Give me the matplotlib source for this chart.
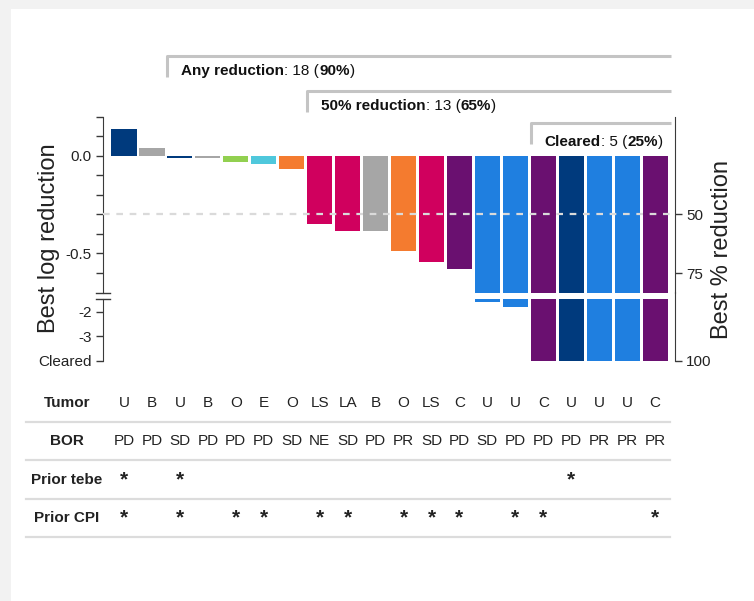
import numpy as np
import matplotlib
matplotlib.use("Agg")
import matplotlib.pyplot as plt
from matplotlib import font_manager
from matplotlib.patches import Rectangle

# per-patient data, sorted by best log reduction
tumor = ["U", "B", "U", "B", "O", "E", "O", "LS", "LA", "B",
         "O", "LS", "C", "U", "U", "C", "U", "U", "U", "C"]
bor = ["PD", "PD", "SD", "PD", "PD", "PD", "SD", "NE", "SD", "PD",
       "PR", "SD", "PD", "SD", "PD", "PD", "PD", "PR", "PR", "PR"]
CLEARED = -4.0
log_reduction = [0.134, 0.04, -0.01, -0.01, -0.035, -0.045, -0.067, -0.352, -0.387, -0.385,
                 -0.49, -0.543, -0.58, -1.6, -1.8, CLEARED, CLEARED, CLEARED, CLEARED, CLEARED]
prior_tebe = [1, 0, 1, 0, 0, 0, 0, 0, 0, 0, 0, 0, 0, 0, 0, 0, 1, 0, 0, 0]
prior_cpi = [1, 0, 1, 0, 1, 1, 0, 1, 1, 0, 1, 1, 1, 0, 1, 1, 0, 0, 0, 1]
bar_colors = ["#003a7d", "#a6a6a6", "#003a7d", "#a6a6a6", "#92d050", "#4fc8dc", "#f47b2f",
              "#d0005e", "#d0005e", "#a6a6a6", "#f47b2f", "#d0005e", "#6a1070", "#1f7fe0",
              "#1f7fe0", "#6a1070", "#003a7d", "#1f7fe0", "#1f7fe0", "#6a1070"]
pct_ticks = [50, 75]

available = {f.name for f in font_manager.fontManager.ttflist}
narrow = "Liberation Sans Narrow" if "Liberation Sans Narrow" in available else "Liberation Sans"
plt.rcParams["font.family"] = "Liberation Sans"
plt.rcParams["axes.unicode_minus"] = False

W, H = 754, 601
SPINE = "#3a3a3a"
fig = plt.figure(figsize=(W / 100, H / 100), dpi=100)
fig.patch.set_facecolor("#f2f2f2")
fig.add_artist(Rectangle((11 / W, 0), 1 - 11 / W, 1 - 9 / H, transform=fig.transFigure,
                         facecolor="white", edgecolor="none", zorder=-10))


def px_axes(left, top, right, bottom):
    return fig.add_axes([left / W, 1 - bottom / H, (right - left) / W, (bottom - top) / H])


ax_up = px_axes(103, 116.5, 675, 292.5)
ax_lo = px_axes(103, 299.3, 675, 361)
ax_tab = px_axes(103, 383.85, 675, 546.6)

n = len(log_reduction)
x = np.arange(n)
xlim = (-0.75, 19.71)

for ax in (ax_up, ax_lo):
    ax.bar(x, log_reduction, width=0.9, color=bar_colors, edgecolor="none")
    ax.set_xlim(*xlim)
    ax.patch.set_alpha(0)
    for s in ("top", "bottom", "right"):
        ax.spines[s].set_visible(False)
    ax.spines["left"].set_color(SPINE)
    ax.tick_params(axis="x", bottom=False, labelbottom=False)
    ax.tick_params(axis="y", which="both", length=5, width=1, color=SPINE,
                   labelsize=11, pad=3, labelcolor="#222222")

ax_up.set_ylim(-0.7, 0.2)
ax_up.set_yticks([0.0, -0.5])
ax_up.set_yticklabels(["0.0", "-0.5"])
ax_up.set_yticks(np.round(np.arange(-0.6, 0.21, 0.1), 1), minor=True)
ax_lo.set_ylim(CLEARED, -1.5)
ax_lo.set_yticks([-2, -3, CLEARED])
ax_lo.set_yticklabels(["-2", "-3", "Cleared"])

# axis break marks
ax_up.plot([-0.013, 0.013], [0, 0], transform=ax_up.transAxes, color=SPINE, lw=1, clip_on=False)
ax_lo.plot([-0.013, 0.013], [1, 1], transform=ax_lo.transAxes, color=SPINE, lw=1, clip_on=False)

# 50% reduction threshold
ax_up.axhline(np.log10(0.5), color="#dadada", lw=1.6, dashes=(3, 3), zorder=5)

# right-hand % reduction axis
ax_ru = ax_up.twinx()
ax_ru.set_ylim(ax_up.get_ylim())
ax_ru.set_yticks([np.log10(1 - p / 100) for p in pct_ticks])
ax_ru.set_yticklabels([str(p) for p in pct_ticks])
ax_rl = ax_lo.twinx()
ax_rl.set_ylim(ax_lo.get_ylim())
ax_rl.set_yticks([CLEARED])
ax_rl.set_yticklabels(["100"])
ax_rl.spines["right"].set_bounds(CLEARED, -1.2)
for ax in (ax_ru, ax_rl):
    for s in ("top", "bottom", "left"):
        ax.spines[s].set_visible(False)
    ax.spines["right"].set_color(SPINE)
    ax.tick_params(axis="y", length=5, width=1, color=SPINE, labelsize=11, pad=3,
                   labelcolor="#222222")

fig.text(49 / W, 1 - 238 / H, "Best log reduction", rotation=90, ha="center", va="center",
         fontsize=17, color="#222222")
fig.text(722 / W, 1 - 249.5 / H, "Best % reduction", rotation=90, ha="center", va="center",
         fontsize=17, color="#222222")

# response brackets
vals = np.array(log_reduction)
groups = [
    ("Any reduction", vals < 0, 0.507, 0.433),
    ("50% reduction", vals <= np.log10(0.5), 0.328, 0.253),
    ("Cleared", vals == CLEARED, 0.165, 0.072),
]
for name, mask, line_y, text_y in groups:
    count = int(mask.sum())
    x0 = np.argmax(mask) - 0.45
    x1 = n - 1 + 0.55
    ax_up.plot([x0, x0, x1], [line_y - 0.105, line_y, line_y], color="#c4c4c4", lw=2.2,
               clip_on=False, solid_capstyle="butt")
    parts = [(name, "bold"), (f": {count} (", "normal"),
             (f"{round(100 * count / n)}%", "bold"), (")", "normal")]
    t = ax_up.text(x0 + 0.5, text_y, parts[0][0], fontweight="bold", fontsize=11,
                   family=narrow, va="center", ha="left", color="#111111", clip_on=False)
    for part, weight in parts[1:]:
        t = ax_up.annotate(part, xy=(1, 0), xycoords=t, va="bottom", ha="left",
                           fontweight=weight, fontsize=11, family=narrow, color="#111111")

# annotation table under the bars
ax_tab.set_xlim(*xlim)
ax_tab.set_ylim(3.75, -0.5)
ax_tab.axis("off")
label_x = -2.04
rows = ["Tumor", "BOR", "Prior tebe", "Prior CPI"]
for r, label in enumerate(rows):
    ax_tab.text(label_x, r, label, ha="center", va="center", fontweight="bold", fontsize=11,
                family=narrow, color="#222222")
    ax_tab.plot([-3.51, 19.53], [r + 0.5, r + 0.5], color="#dcdcdc", lw=1.6, clip_on=False)
for i in range(n):
    ax_tab.text(i, 0, tumor[i], ha="center", va="center", fontsize=11, family=narrow,
                color="#222222")
    ax_tab.text(i, 1, bor[i], ha="center", va="center", fontsize=11, family=narrow,
                color="#222222")
    if prior_tebe[i]:
        ax_tab.text(i, 2.0, "*", ha="center", va="center", fontsize=15, fontweight="bold",
                    color="#222222")
    if prior_cpi[i]:
        ax_tab.text(i, 3.0, "*", ha="center", va="center", fontsize=15, fontweight="bold",
                    color="#222222")

fig.savefig("out.png", dpi=100, facecolor=fig.get_facecolor())
